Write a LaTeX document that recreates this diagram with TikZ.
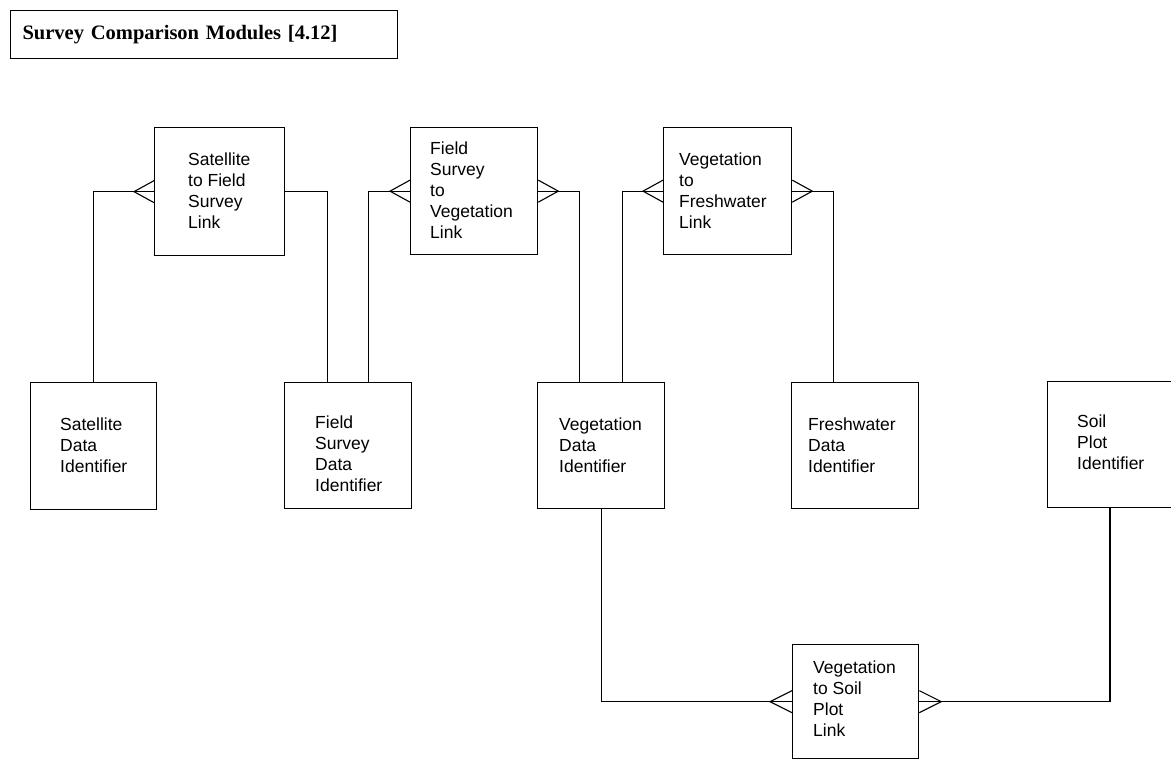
\documentclass[tikz,border=0pt]{standalone}
\usepackage{fontspec}
\setmainfont{Liberation Sans}
\newfontfamily\titlefont{Liberation Serif}
\usetikzlibrary{calc}

% crow's foot ending a link line at a box edge (#2 = -20 on a west side, 20 on an east side)
\newcommand{\crowsfoot}[2]{%
  \draw[rel] ($(#1)+(0,-11)$) -- ($(#1)+(#2,0)$) -- ($(#1)+(0,11)$);}

\begin{document}
\begin{tikzpicture}[x=1pt,y=-1pt,
  entity/.style={draw, line width=1.3pt, inner sep=0pt, anchor=north west},
  lbl/.style={inner sep=0pt, anchor=north west, align=left,
    font=\fontsize{17.5}{21}\selectfont},
  rel/.style={line width=1.1pt},
  heading/.style={draw, line width=1.2pt, anchor=north west, align=left,
    text width=363pt, inner xsep=12pt, inner ysep=0pt, minimum height=48pt,
    font=\titlefont\bfseries\fontsize{20.5}{24}\selectfont},
]
\useasboundingbox (0,0) rectangle (1171,761);
\fill[white] (0,0) rectangle (1171,761);
\clip (0,0) rectangle (1171,761);

% heading
\node[heading] (title) at (10,10) {Survey Comparison Modules [4.12]};

% link entities
\node[entity, minimum width=130pt, minimum height=128pt] (l1) at (154,127) {};
\node[entity, minimum width=127pt, minimum height=127pt] (l2) at (410,127) {};
\node[entity, minimum width=128pt, minimum height=127pt] (l3) at (663,127) {};
\node[entity, minimum width=126pt, minimum height=114pt] (l4) at (792,644) {};

% identifier entities
\node[entity, minimum width=126pt, minimum height=127pt] (sat) at (30,382) {};
\node[entity, minimum width=127pt, minimum height=126pt] (fsd) at (284,382) {};
\node[entity, minimum width=127pt, minimum height=126pt] (veg) at (537,382) {};
\node[entity, minimum width=127pt, minimum height=126pt] (fw) at (791,382) {};
\node[entity, minimum width=150pt, minimum height=126pt] (soil) at (1047,381) {};

% entity names
\node[lbl] (l1-t) at ($(l1.north west)+(34,25.5)$) {Satellite\\to Field\\Survey\\Link};
\node[lbl] (l2-t) at ($(l2.north west)+(20,14.5)$) {Field\\Survey\\to\\Vegetation\\Link};
\node[lbl] (l3-t) at ($(l3.north west)+(16,25.5)$) {Vegetation\\to\\Freshwater\\Link};
\node[lbl] (l4-t) at ($(l4.north west)+(21,16.5)$) {Vegetation\\to Soil\\Plot\\Link};
\node[lbl] (sat-t) at ($(sat.north west)+(30,35.5)$) {Satellite\\Data\\Identifier};
\node[lbl] (fsd-t) at ($(fsd.north west)+(31,34)$) {Field\\Survey\\Data\\Identifier};
\node[lbl] (veg-t) at ($(veg.north west)+(22,35.5)$) {Vegetation\\Data\\Identifier};
\node[lbl] (fw-t) at ($(fw.north west)+(17,35.5)$) {Freshwater\\Data\\Identifier};
\node[lbl] (soil-t) at ($(soil.north west)+(30,34)$) {Soil\\Plot\\Identifier};

% attachment points on the identifier boxes
\coordinate (fsd-a) at ($(fsd.north)+(-20.5,0)$);
\coordinate (fsd-b) at ($(fsd.north)+(20.5,0)$);
\coordinate (veg-a) at ($(veg.north)+(-21.5,0)$);
\coordinate (veg-b) at ($(veg.north)+(21.5,0)$);
\coordinate (fw-a) at ($(fw.north)+(-21.5,0)$);
\coordinate (soil-a) at ($(soil.south west)+(63,0)$);

% relationships
\draw[rel] (sat.north) |- (l1.west);
\draw[rel] (l1.east) -| (fsd-a);
\draw[rel] (fsd-b) |- (l2.west);
\draw[rel] (l2.east) -| (veg-a);
\draw[rel] (veg-b) |- (l3.west);
\draw[rel] (l3.east) -| (fw-a);
\draw[rel] (veg.south) |- (l4.west);
\draw[rel] (soil-a) |- (l4.east);

% many-side markers
\crowsfoot{l1.west}{-20}
\crowsfoot{l2.west}{-20}
\crowsfoot{l2.east}{20}
\crowsfoot{l3.west}{-20}
\crowsfoot{l3.east}{20}
\crowsfoot{l4.west}{-22}
\crowsfoot{l4.east}{22}
\end{tikzpicture}
\end{document}
